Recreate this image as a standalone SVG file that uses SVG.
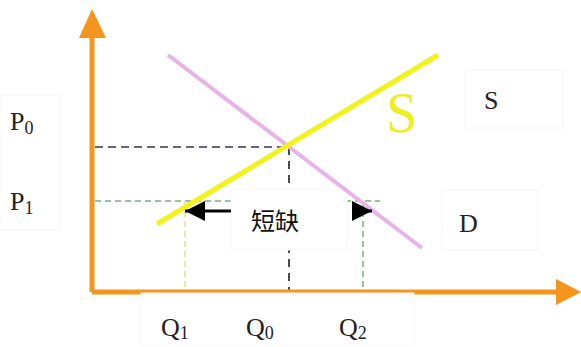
<svg xmlns="http://www.w3.org/2000/svg" width="581" height="347" viewBox="0 0 581 347">
<style>
.lbl{font-family:"Liberation Serif","Times New Roman",serif;fill:#222;font-size:26px}
.sub{font-size:18px}
.box{fill:#fff;stroke:#f5f5f5;stroke-width:1}
</style>
<defs>
<marker id="ah" viewBox="0 0 10 10" refX="10" refY="5" markerWidth="20" markerHeight="20" markerUnits="userSpaceOnUse" orient="auto">
<path d="M0,0 L10,5 L0,10 Z" fill="#000"/>
</marker>
</defs>
<rect width="581" height="347" fill="#fff"/>
<g id="guides" fill="none" stroke-width="1.5">
<line x1="95" y1="147" x2="289" y2="147" stroke="#33335a" stroke-dasharray="8,5"/>
<line x1="289" y1="147" x2="289" y2="292" stroke="#111" stroke-dasharray="8,6"/>
<line x1="95" y1="201" x2="380" y2="201" stroke="#77b077" stroke-dasharray="6,4"/>
<line x1="185" y1="201" x2="185" y2="292" stroke="#e8e08a" stroke-dasharray="6,4"/>
<line x1="363" y1="201" x2="363" y2="292" stroke="#77b077" stroke-dasharray="6,4"/>
</g>
<g id="shortage-box">
<rect x="231" y="189" width="116" height="61" fill="#fff" stroke="#f7f7f7"/>
</g>
<g id="curves">
<line x1="168" y1="55" x2="422" y2="248" stroke="#e8b4e8" stroke-width="4"/>
<line x1="157" y1="224" x2="438" y2="55" stroke="#f2f21c" stroke-width="5"/>
</g>
<g id="axes">
<line x1="92" y1="292" x2="92" y2="36" stroke="#f5951e" stroke-width="5"/>
<polygon points="92,9 79,38 106,38" fill="#f5951e"/>
<line x1="92" y1="292" x2="558" y2="292" stroke="#f5951e" stroke-width="5"/>
<polygon points="581,292 556,279 556,305" fill="#f5951e"/>
</g>
<g id="shortage">
<line x1="231" y1="211" x2="185" y2="211" stroke="#000" stroke-width="3" marker-end="url(#ah)"/>
<line x1="352" y1="211" x2="372" y2="211" stroke="#000" stroke-width="3" marker-end="url(#ah)"/>
<text x="275" y="230" text-anchor="middle" font-family="'Noto Sans CJK SC',sans-serif" font-size="24" fill="#111">短缺</text>
</g>
<g id="p-labels">
<rect class="box" x="0" y="95" width="60" height="135"/>
<text class="lbl" x="10" y="130">P<tspan class="sub" dy="4">0</tspan></text>
<text class="lbl" x="10" y="210">P<tspan class="sub" dy="4">1</tspan></text>
</g>
<g id="q-labels">
<rect x="141" y="293" width="273" height="54" fill="#fff" stroke="#f7f7f7"/>
<text class="lbl" x="161" y="336">Q<tspan class="sub" dy="3">1</tspan></text>
<text class="lbl" x="246" y="336">Q<tspan class="sub" dy="3">0</tspan></text>
<text class="lbl" x="339" y="336">Q<tspan class="sub" dy="3">2</tspan></text>
</g>
<g id="s-label">
<rect class="box" x="465" y="70" width="98" height="58"/>
<text class="lbl" x="484" y="109">S</text>
<text x="386" y="132" font-family="'Liberation Serif',serif" font-size="56" fill="#eeee22">S</text>
</g>
<g id="d-label">
<rect class="box" x="442" y="190" width="96" height="60"/>
<text class="lbl" x="459" y="232">D</text>
</g>
</svg>
